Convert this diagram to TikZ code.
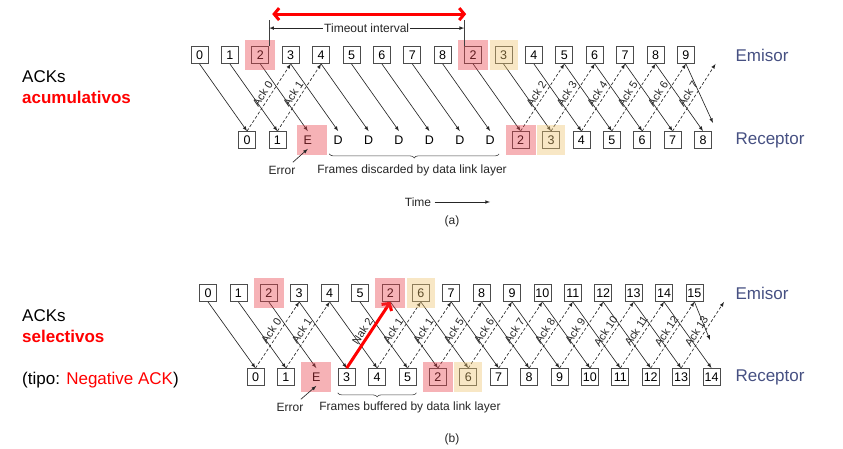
\documentclass[tikz,border=0pt]{standalone}
\usepackage{fontspec}
\setmainfont{Liberation Sans}
\usetikzlibrary{arrows,arrows.meta,positioning,decorations.pathreplacing}

\definecolor{emisorblue}{RGB}{70,80,130}
\definecolor{hlpink}{RGB}{232,62,72}
\definecolor{hlsand}{RGB}{238,196,110}

\tikzset{
  frame/.style={draw=black!70, line width=0.8pt, minimum width=17pt, minimum height=17pt,
    inner sep=0pt, font=\fontsize{12.5}{12.5}\selectfont},
  noframe/.style={frame, draw=none},
  send/.style={->, >=latex, line width=0.65pt, black!85},
  ack/.style={send, dash pattern=on 3pt off 2pt},
  acklbl/.style={sloped, above, inner sep=3pt, font=\fontsize{11}{12}\selectfont, text=black!85},
  lost/.style={fill=hlpink, fill opacity=0.4, minimum width=30pt, minimum height=30pt, inner sep=0pt},
  resent/.style={fill=hlsand, fill opacity=0.4, minimum width=28pt, minimum height=30pt, inner sep=0pt},
  side/.style={anchor=west, font=\fontsize{17}{17}\selectfont, text=emisorblue},
  kind/.style={anchor=west, align=left, inner sep=0pt, font=\fontsize{17}{21}\selectfont},
  note/.style={font=\fontsize{12}{14}\selectfont, text=black!85},
  nakred/.style={red, line width=3pt, -{Straight Barb[length=5pt,width=12pt]}},
}

\begin{document}
\begin{tikzpicture}[x=1pt, y=1pt, node distance=12.6pt]
  \useasboundingbox (0,0) rectangle (843,449);

  % (a) acumulativos
  \node[frame] (as0) at (199.5,394) {0};
  \foreach \lbl [count=\i, remember=\i as \j (initially 0)] in {1,2,3,4,5,6,7,8,2,3,4,5,6,7,8,9}
    \node[frame, right=of as\j] (as\i) {\lbl};
  \node[frame] (ar0) at (247,309) {0};
  \foreach \lbl/\sty [count=\i, remember=\i as \j (initially 0)] in
      {1/frame,E/noframe,D/noframe,D/noframe,D/noframe,D/noframe,D/noframe,D/noframe,
       2/frame,3/frame,4/frame,5/frame,6/frame,7/frame,8/frame}
    \node[\sty, right=of ar\j] (ar\i) {\lbl};

  \foreach \i in {0,...,15}
    \draw[send] (as\i.south) -- (ar\i.north);
  \coordinate (aLast) at (713,326);
  \draw[send] (as16.south) -- (aLast);

  \foreach \r/\s/\txt in {0/3/Ack 0,1/4/Ack 1,9/12/Ack 2,10/13/Ack 3,11/14/Ack 4,12/15/Ack 5,13/16/Ack 6}
    \draw[ack] (ar\r.north) -- node[acklbl] (ackA\r) {\txt} (as\s.south);
  \coordinate (aAckEnd) at ([xshift=29.6pt]as16.south);
  \draw[ack] (ar14.north) -- node[acklbl] (ackA14) {Ack 7} (aAckEnd);

  \node[lost] (hlA1) at (as2) {};
  \node[lost] (hlA2) at (as9) {};
  \node[resent] (hlA3) at (as10) {};
  \node[lost] (hlA4) at ([xshift=4pt]ar2) {};
  \node[lost] (hlA5) at (ar9) {};
  \node[resent] (hlA6) at (ar10) {};

  % timeout
  \draw[black!75, line width=0.6pt] (as2.north east) -- ++(0,26) coordinate (toL);
  \draw[black!75, line width=0.6pt] (as9.north west) -- ++(0,26) coordinate (toR);
  \draw[send, <->] ([yshift=-8pt]toL) -- node[note, fill=white, inner sep=1pt] (toTxt) {Timeout interval} ([yshift=-8pt]toR);
  \draw[red, line width=3pt, {Straight Barb[length=5pt,width=12pt]}-{Straight Barb[length=5pt,width=12pt]}]
    ([shift={(3,6)}]toL) -- ([shift={(2,6)}]toR);

  \node[note] (errA) at (282,279) {Error};
  \draw[send] ([xshift=-6pt]errA.north east) -- (ar2.south);
  \draw[black!75, line width=0.6pt, decorate, decoration={brace, mirror, amplitude=4pt}]
    ([yshift=-5pt]ar3.south west) -- ([yshift=-5pt]ar8.south east);
  \node[note] (discA) at (412,279) {Frames discarded by data link layer};
  \node[note] (timeA) at (418,247) {Time};
  \coordinate (timeEnd) at (490,247);
  \draw[send] (timeA) -- (timeEnd);
  \node[note] (capA) at (452,228) {(a)};

  \node[kind] (kindA) at (22,361.5) {ACKs\\\textcolor{red}{\textbf{acumulativos}}};
  \node[side] (emA) at (732,394) {Emisor};
  \node[side] (reA) at (732,309) {Receptor};

  % (b) selectivos
  \node[frame] (bs0) at (208,156) {0};
  \foreach \lbl [count=\i, remember=\i as \j (initially 0)] in {1,2,3,4,5,2,6,7,8,9,10,11,12,13,14,15}
    \node[frame, right=of bs\j] (bs\i) {\lbl};
  \node[frame] (br0) at (255.5,72) {0};
  \foreach \lbl/\sty [count=\i, remember=\i as \j (initially 0)] in
      {1/frame,E/noframe,3/frame,4/frame,5/frame,2/frame,6/frame,7/frame,
       8/frame,9/frame,10/frame,11/frame,12/frame,13/frame,14/frame}
    \node[\sty, right=of br\j] (br\i) {\lbl};

  \foreach \i in {0,...,15}
    \draw[send] (bs\i.south) -- (br\i.north);
  \coordinate (bLast) at (710,109);
  \draw[send] (bs16.south) -- (bLast);

  \foreach \r/\s/\txt in {0/3/Ack 0,1/4/Ack 1,3/6/Nak 2,4/7/Ack 1,5/8/Ack 1,6/9/Ack 5,7/10/Ack 6,
      8/11/Ack 7,9/12/Ack 8,10/13/Ack 9,11/14/Ack 10,12/15/Ack 11,13/16/Ack 12}
    \draw[ack] (br\r.north) -- node[acklbl] (ackB\r) {\txt} (bs\s.south);
  \coordinate (bAckEnd) at ([xshift=29.6pt]bs16.south);
  \draw[ack] (br14.north) -- node[acklbl] (ackB14) {Ack 13} (bAckEnd);
  \draw[nakred] (br3.north) -- (bs6.south);

  \node[lost] (hlB1) at (bs2) {};
  \node[lost] (hlB2) at (bs6) {};
  \node[resent] (hlB3) at (bs7) {};
  \node[lost] (hlB4) at (br2) {};
  \node[lost] (hlB5) at (br6) {};
  \node[resent] (hlB6) at (br7) {};

  \node[note] (errB) at (290,42) {Error};
  \draw[send] ([xshift=-6pt]errB.north east) -- (br2.south);
  \draw[black!75, line width=0.6pt, decorate, decoration={brace, mirror, amplitude=4pt}]
    ([yshift=-7pt]br3.south west) -- ([yshift=-7pt]br5.south east);
  \node[note] (bufB) at (410,42) {Frames buffered by data link layer};
  \node[note] (capB) at (452,10) {(b)};

  \node[kind] (kindB) at (22,100) {ACKs\\\textcolor{red}{\textbf{selectivos}}\\[21pt](tipo: \textcolor{red}{Negative ACK})};
  \node[side] (emB) at (732,156) {Emisor};
  \node[side] (reB) at (732,72) {Receptor};
\end{tikzpicture}
\end{document}
